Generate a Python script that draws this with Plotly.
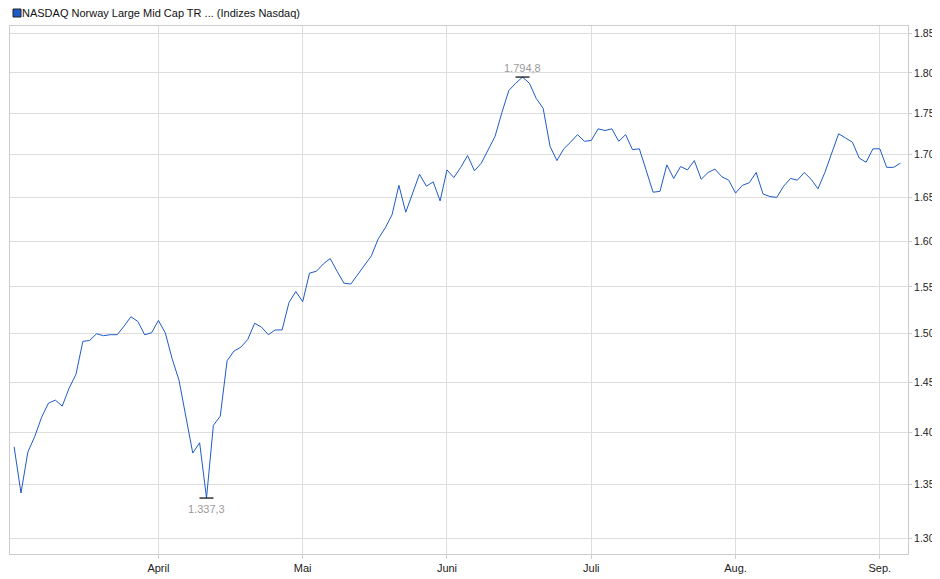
import plotly.graph_objects as go
import math

values = [1386,1342,1381,1396,1415,1429,1432,1426,1444,1458,1492,1493,1500,1498,1499,1499,1508,1518,1513,1499,
          1501,1514,1501,1474,1452,1414,1380,1390,1337.3,1407,1416,1472,1482,1486,1494,1511,1507,1499,1504,1504,
          1533,1545,1534,1565,1567,1575,1581,1567,1554,1553,1563,1574,1584,1603,1615,1630,1664,1633,1654,1677,
          1663,1668,1646,1682,1673,1685,1699,1681,1690,1706,1722,1751,1778,1787,1794.8,1787,1768,1756,1710,1693,
          1707,1715,1724,1716,
          1717,1731,1729,1731,1716,1724,1706,1707,1681,1656,1657,1688,1672,1686,1682,1693,1671,1679,1683,1674,
          1670,1655,1664,1667,1679,1654,1651,1650,1663,1672,1670,1679,1671,1660,1679,1701,1725,1720,1715,1696,
          1691,1707,1707,1685,1685,1690]
x = list(range(len(values)))
month_pos = [21, 42, 63, 84, 105, 126]
month_labels = ["April", "Mai", "Juni", "Juli", "Aug.", "Sep."]
y_ticks = [1300,1350,1400,1450,1500,1550,1600,1650,1700,1750,1800,1850]
y_labels = ["1.300","1.350","1.400","1.450","1.500","1.550","1.600","1.650","1.700","1.750","1.800","1.850"]
legend_text = "NASDAQ Norway Large Mid Cap TR ... (Indizes Nasdaq)"

imax = values.index(max(values)); imin = values.index(min(values))
fig = go.Figure()
fig.add_trace(go.Scatter(x=x, y=values, mode="lines", line=dict(color="#1f5bc7", width=1), showlegend=False))
fig.add_trace(go.Scatter(x=[imax, imin], y=[values[imax], values[imin]], mode="markers",
                         marker=dict(symbol="line-ew", size=10, line=dict(color="black", width=1.2)),
                         showlegend=False, hoverinfo="skip"))
fig.add_annotation(x=imax, y=math.log10(values[imax]), text="1.794,8", showarrow=False, yshift=9,
                   font=dict(color="#9a9a9a", size=11))
fig.add_annotation(x=imin, y=math.log10(values[imin]), text="1.337,3", showarrow=False, yshift=-11,
                   font=dict(color="#9a9a9a", size=11))
fig.add_annotation(xref="paper", yref="paper", x=0, y=1, xshift=10, yshift=13, xanchor="left", yanchor="middle",
                   text=legend_text, showarrow=False, font=dict(size=11, color="#111"))
fig.add_shape(type="rect", xref="paper", yref="paper", x0=0, x1=0, y0=1, y1=1,
              xsizemode="pixel", ysizemode="pixel", xanchor=0, yanchor=1,
              fillcolor="#1f5bc7", line=dict(color="#222", width=1))
fig.layout.shapes[0].update(x0=3, x1=11, y0=9, y1=17)
fig.update_layout(
    width=940, height=579, margin=dict(l=2, r=40, t=18, b=33, autoexpand=False),
    plot_bgcolor="white", paper_bgcolor="white",
    font=dict(family="Liberation Sans, Arial", size=11, color="#222"),
    xaxis=dict(range=[-0.6, 130.1], tickvals=month_pos, ticktext=month_labels, showgrid=True,
               gridcolor="#dddddd", ticks="outside", tickcolor="#cccccc", ticklen=4, automargin=False,
               showline=True, linecolor="#cccccc", mirror=True, zeroline=False),
    yaxis=dict(type="log", range=[math.log10(1286), math.log10(1860)], side="right",
               tickvals=y_ticks, ticktext=y_labels, showgrid=True, gridcolor="#dddddd", automargin=False,
               ticks="outside", tickcolor="#cccccc", ticklen=3, tickfont=dict(size=10.5),
               showline=True, linecolor="#cccccc", mirror=True),
)
fig.write_html("out.html")
